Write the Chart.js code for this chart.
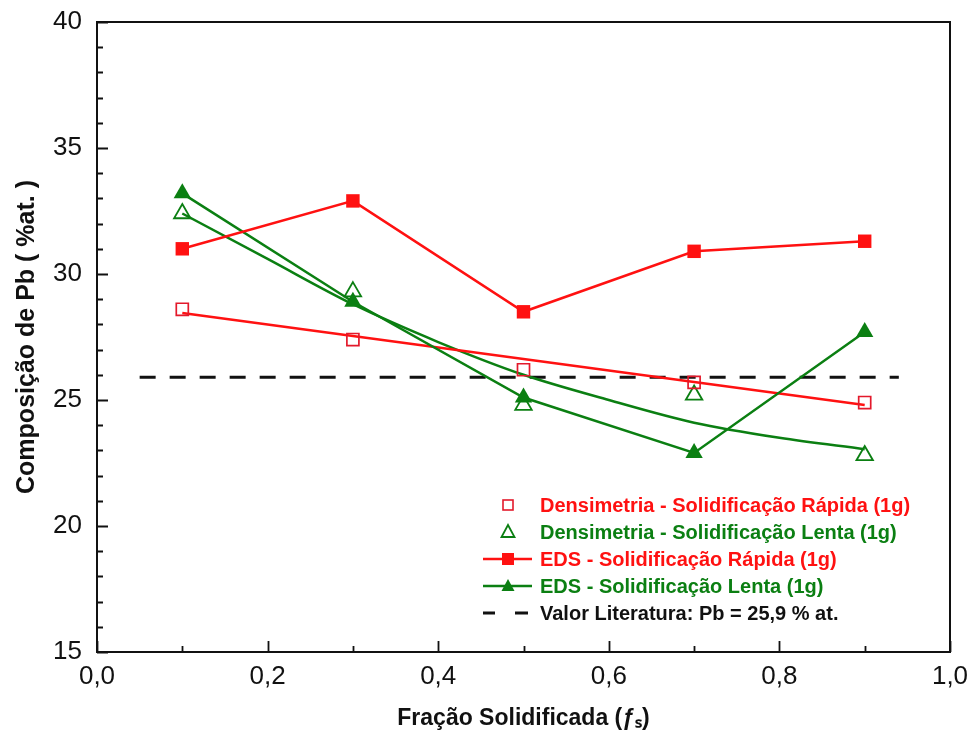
<!DOCTYPE html>
<html>
<head>
<meta charset="utf-8">
<script src="https://cdn.jsdelivr.net/npm/chart.js@4.4.1/dist/chart.umd.min.js"></script>
<style>
  html, body { margin: 0; padding: 0; background: #ffffff; }
  #wrap { width: 974px; height: 744px; }
</style>
</head>
<body>
<div id="wrap"><canvas id="grafico" width="974" height="744"></canvas></div>
<script>
// Fração solidificada das amostras
const fracoes = [0.1, 0.3, 0.5, 0.7, 0.9];

// Composição de Pb (% at.) medida
const densRapida = [28.6, 27.4, 26.2, 25.7, 24.9];
const densLenta  = [32.4, 29.3, 24.8, 25.2, 22.8];
const edsRapida  = [31.0, 32.9, 28.5, 30.9, 31.3];
const edsLenta   = [33.2, 28.9, 25.1, 22.9, 27.7];

// Curvas de ajuste dos dados de densimetria
const ajusteRapidaX = [0.1, 0.9];
const ajusteRapidaY = [28.45, 24.8];
const ajusteLentaX  = [0.1, 0.2, 0.3, 0.4, 0.5, 0.6, 0.7, 0.8, 0.9];
const ajusteLentaY  = [32.4, 30.6, 28.8, 27.3, 26.0, 25.0, 24.1, 23.5, 23.05];

// Valor de referência da literatura
const literaturaX = [0.05, 0.94];
const valorLiteratura = 25.9;

// Rótulos
const rotulos = [
  'Densimetria - Solidificação Rápida (1g)',
  'Densimetria - Solidificação Lenta (1g)',
  'EDS - Solidificação Rápida (1g)',
  'EDS - Solidificação Lenta (1g)',
  'Valor Literatura: Pb = 25,9 % at.'
];
const tituloX = 'Fração Solidificada (ƒₛ)';
const tituloY = 'Composição de Pb ( %at. )';

const VERMELHO = '#ff1111';
const VERMELHO_ESC = '#e3192b';
const VERDE = '#0b7f12';

const pares = (xs, ys) => xs.map((x, i) => ({ x: x, y: ys[i] }));

// Bordas, marcas internas dos eixos e legenda
const molduraPlugin = {
  id: 'moldura',
  afterDraw(chart) {
    const ctx = chart.ctx;
    const a = chart.chartArea;
    const sx = chart.scales.x, sy = chart.scales.y;
    ctx.save();
    ctx.strokeStyle = '#111';
    ctx.lineWidth = 2;
    ctx.strokeRect(a.left, a.top, a.right - a.left, a.bottom - a.top);
    ctx.lineWidth = 1.8;
    ctx.beginPath();
    for (let i = 0; i <= 10; i++) {
      const px = Math.round(sx.getPixelForValue(i / 10)) + 0.5;
      const len = i % 2 === 0 ? 11 : 6;
      ctx.moveTo(px, a.bottom);
      ctx.lineTo(px, a.bottom - len);
    }
    for (let v = 15; v <= 40; v++) {
      const py = Math.round(sy.getPixelForValue(v)) + 0.5;
      const len = v % 5 === 0 ? 11 : 6;
      ctx.moveTo(a.left, py);
      ctx.lineTo(a.left + len, py);
    }
    ctx.stroke();

    // legenda
    const itens = [
      { cor: VERMELHO, tipo: 'quadAberto', corMarca: VERMELHO_ESC },
      { cor: VERDE, tipo: 'triAberto', corMarca: VERDE },
      { cor: VERMELHO, tipo: 'quadLinha', corMarca: VERMELHO },
      { cor: VERDE, tipo: 'triLinha', corMarca: VERDE },
      { cor: '#111', tipo: 'tracejado', corMarca: '#111' }
    ];
    const x0 = 483, x1 = 532, xm = 508, xt = 540;
    let y = 505;
    ctx.font = 'bold 20px "Liberation Sans", Arial, sans-serif';
    ctx.textBaseline = 'middle';
    ctx.textAlign = 'left';
    itens.forEach((it, i) => {
      ctx.strokeStyle = it.corMarca;
      ctx.fillStyle = it.corMarca;
      if (it.tipo === 'quadLinha' || it.tipo === 'triLinha') {
        ctx.lineWidth = 2.5;
        ctx.beginPath();
        ctx.moveTo(x0, y); ctx.lineTo(x1, y);
        ctx.stroke();
      }
      if (it.tipo === 'quadAberto') {
        ctx.lineWidth = 1.6;
        ctx.strokeRect(xm - 5, y - 5, 10, 10);
      } else if (it.tipo === 'quadLinha') {
        ctx.fillRect(xm - 6, y - 6, 12, 12);
      } else if (it.tipo === 'triAberto' || it.tipo === 'triLinha') {
        ctx.lineWidth = 1.8;
        ctx.beginPath();
        ctx.moveTo(xm, y - 7);
        ctx.lineTo(xm + 6.5, y + 5);
        ctx.lineTo(xm - 6.5, y + 5);
        ctx.closePath();
        if (it.tipo === 'triLinha') ctx.fill(); else ctx.stroke();
      } else if (it.tipo === 'tracejado') {
        ctx.lineWidth = 3;
        ctx.beginPath();
        ctx.moveTo(x0, y); ctx.lineTo(x0 + 12, y);
        ctx.moveTo(x0 + 32, y); ctx.lineTo(x0 + 45, y);
        ctx.stroke();
      }
      ctx.fillStyle = it.cor;
      ctx.fillText(rotulos[i], xt, y + 1);
      y += 27;
    });
    ctx.restore();
  }
};

const ctx = document.getElementById('grafico').getContext('2d');
new Chart(ctx, {
  type: 'scatter',
  data: {
    datasets: [
      {
        label: 'Ajuste Rápida',
        data: pares(ajusteRapidaX, ajusteRapidaY),
        showLine: true, borderColor: VERMELHO, borderWidth: 2.5,
        pointRadius: 0, order: 5
      },
      {
        label: 'Ajuste Lenta',
        data: pares(ajusteLentaX, ajusteLentaY),
        showLine: true, borderColor: VERDE, borderWidth: 2.5,
        cubicInterpolationMode: 'monotone',
        pointRadius: 0, order: 5
      },
      {
        label: rotulos[4],
        data: literaturaX.map(x => ({ x: x, y: valorLiteratura })),
        showLine: true, borderColor: '#111', borderWidth: 3,
        borderDash: [16, 14], pointRadius: 0, order: 6
      },
      {
        label: rotulos[2],
        data: pares(fracoes, edsRapida),
        showLine: true, borderColor: VERMELHO, borderWidth: 2.5,
        pointStyle: 'rect', pointRadius: 9.5,
        pointBackgroundColor: VERMELHO, pointBorderColor: VERMELHO, pointBorderWidth: 0,
        order: 3
      },
      {
        label: rotulos[3],
        data: pares(fracoes, edsLenta),
        showLine: true, borderColor: VERDE, borderWidth: 2.5,
        pointStyle: 'triangle', pointRadius: 10,
        pointBackgroundColor: VERDE, pointBorderColor: VERDE, pointBorderWidth: 0,
        order: 3
      },
      {
        label: rotulos[0],
        data: pares(fracoes, densRapida),
        showLine: false,
        pointStyle: 'rect', pointRadius: 8.5,
        pointBackgroundColor: 'rgba(255,255,255,0)', pointBorderColor: VERMELHO_ESC, pointBorderWidth: 1.7,
        order: 1
      },
      {
        label: rotulos[1],
        data: pares(fracoes, densLenta),
        showLine: false,
        pointStyle: 'triangle', pointRadius: 9.5,
        pointBackgroundColor: 'rgba(255,255,255,0)', pointBorderColor: VERDE, pointBorderWidth: 1.8,
        order: 1
      }
    ]
  },
  options: {
    responsive: false,
    animation: false,
    devicePixelRatio: 1,
    layout: { padding: { top: 22, right: 24, left: 0, bottom: 0 } },
    plugins: {
      legend: { display: false },
      tooltip: { enabled: false }
    },
    scales: {
      x: {
        type: 'linear', min: 0, max: 1,
        grid: { display: false, drawTicks: false },
        border: { display: false },
        ticks: {
          stepSize: 0.2, padding: 9, color: '#111',
          font: { family: '"Liberation Sans", Arial, sans-serif', size: 26 },
          callback: v => v.toFixed(1).replace('.', ',')
        },
        title: {
          display: true, text: tituloX, color: '#111',
          font: { family: '"Liberation Sans", Arial, sans-serif', size: 23, weight: 'bold' },
          padding: { top: 0, bottom: 12 }
        },
        afterFit: s => { s.height = 92; s.paddingLeft = 0; s.paddingRight = 0; }
      },
      y: {
        type: 'linear', min: 15, max: 40,
        grid: { display: false, drawTicks: false },
        border: { display: false },
        ticks: {
          stepSize: 5, padding: 15, color: '#111',
          font: { family: '"Liberation Sans", Arial, sans-serif', size: 26 }
        },
        title: {
          display: true, text: tituloY, color: '#111',
          font: { family: '"Liberation Sans", Arial, sans-serif', size: 25, weight: 'bold' },
          padding: { top: 12, bottom: 0 }
        },
        afterFit: s => { s.width = 97; s.paddingTop = 0; s.paddingBottom = 0; }
      }
    }
  },
  plugins: [molduraPlugin]
});
</script>
</body>
</html>
